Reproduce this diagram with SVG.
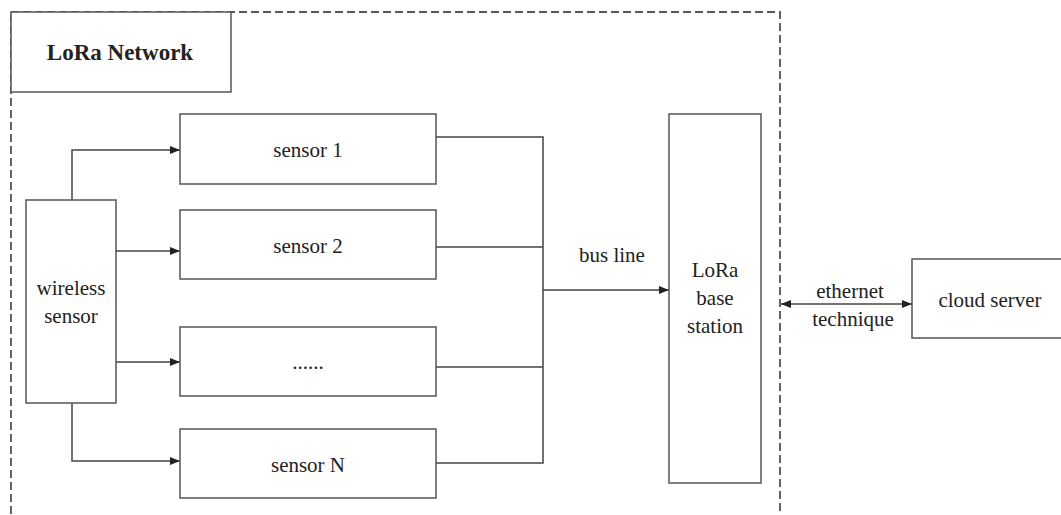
<svg xmlns="http://www.w3.org/2000/svg" width="1061" height="515" viewBox="0 0 1061 515">
<style>
.box{fill:#fff;stroke:#555;stroke-width:1.5}
.ln{fill:none;stroke:#444;stroke-width:1.5}
.t{font-family:"Liberation Serif","Times New Roman",serif;font-size:21px;fill:#222;text-anchor:middle}
.b{font-weight:bold;font-size:23px}
</style>
<defs>
<marker id="ah" viewBox="0 0 10 8" refX="10" refY="4" markerWidth="10" markerHeight="8" markerUnits="userSpaceOnUse" orient="auto-start-reverse">
<path d="M0,0 L10,4 L0,8 Z" fill="#222"/>
</marker>
</defs>
<rect width="1061" height="515" fill="#fff"/>
<rect x="11" y="12" width="769" height="520" fill="none" stroke="#222" stroke-width="1.4" stroke-dasharray="8,4"/>
<g id="title"><rect class="box" x="11" y="12" width="220" height="80"/><text class="t b" x="120" y="60">LoRa Network</text></g>
<g id="connectors">
<path class="ln" d="M72,200 V150 H180" marker-end="url(#ah)"/>
<path class="ln" d="M116,251 H180" marker-end="url(#ah)"/>
<path class="ln" d="M116,362 H180" marker-end="url(#ah)"/>
<path class="ln" d="M72,403 V461 H180" marker-end="url(#ah)"/>
<path class="ln" d="M436,137 H543 V463 H436 M436,247 H543 M436,367 H543"/>
<path class="ln" d="M543,290 H669" marker-end="url(#ah)"/>
<path class="ln" d="M781,304 H912" marker-start="url(#ah)" marker-end="url(#ah)"/>
<text class="t" x="612" y="262">bus line</text>
<text class="t" x="850" y="298">ethernet</text>
<text class="t" x="853" y="326">technique</text>
</g>
<g id="wireless"><rect class="box" x="26" y="200" width="90" height="203"/><text class="t" x="71" y="295">wireless</text><text class="t" x="71" y="323">sensor</text></g>
<g id="s1"><rect class="box" x="180" y="114" width="256" height="70"/><text class="t" x="308" y="157">sensor 1</text></g>
<g id="s2"><rect class="box" x="180" y="210" width="256" height="69"/><text class="t" x="308" y="253">sensor 2</text></g>
<g id="sdots"><rect class="box" x="180" y="327" width="256" height="69"/><text class="t" x="308" y="369">......</text></g>
<g id="sN"><rect class="box" x="180" y="429" width="256" height="69"/><text class="t" x="308" y="472">sensor N</text></g>
<g id="base"><rect class="box" x="669" y="114" width="92" height="369"/><text class="t" x="715" y="277">LoRa</text><text class="t" x="715" y="305">base</text><text class="t" x="715" y="333">station</text></g>
<g id="cloud"><rect class="box" x="912" y="259" width="150" height="79"/><text class="t" x="990" y="307">cloud server</text></g>
</svg>
